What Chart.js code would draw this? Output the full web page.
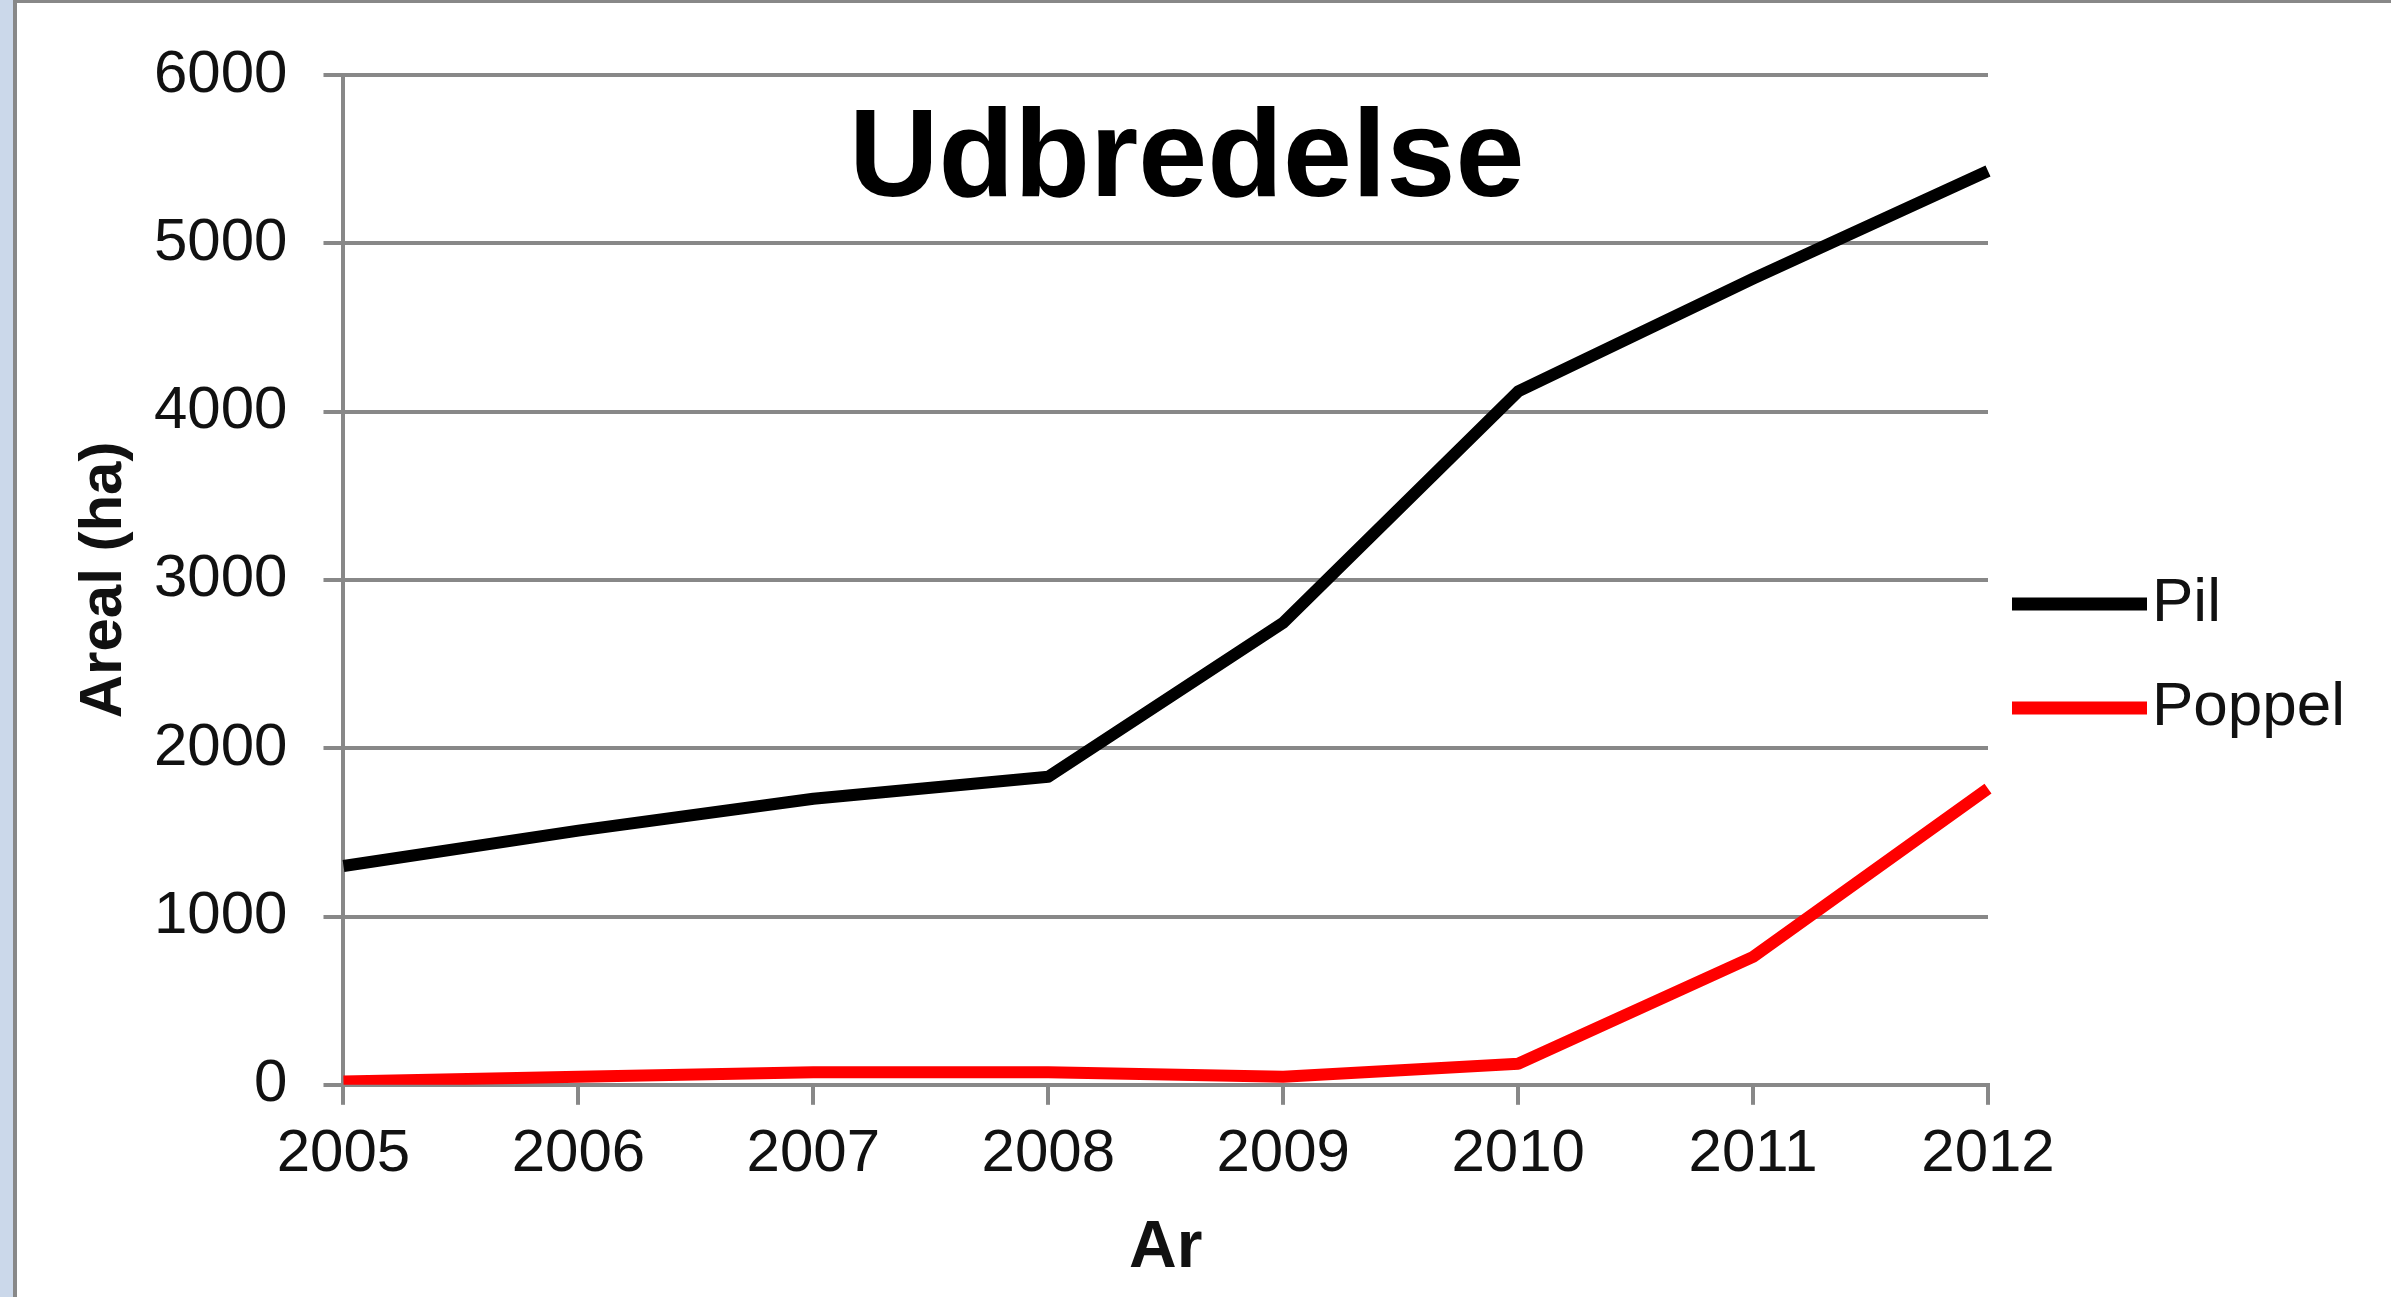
<!DOCTYPE html>
<html>
<head>
<meta charset="utf-8">
<script src="https://cdn.jsdelivr.net/npm/chart.js@4/dist/chart.umd.min.js"></script>
<style>
  html, body { margin: 0; padding: 0; background: #cbd8ea; }
  #ramme {
    position: absolute; left: 13px; top: 0;
    width: 2374px; height: 1294px;
    background: #fff;
    border-left: 4px solid #888;
    border-top: 3px solid #888;
  }
  canvas { display: block; }
</style>
</head>
<body>
<div id="ramme"><canvas id="graf" width="2374" height="1294"></canvas></div>
<script>
// data
const aar = ['2005', '2006', '2007', '2008', '2009', '2010', '2011', '2012'];
const pil = [1300, 1510, 1700, 1830, 2745, 4120, 4790, 5430];
const poppel = [20, 48, 75, 75, 48, 125, 760, 1760];
const yMin = 0;
const yMax = 6000;
const yTrin = 1000;

Chart.defaults.font.family = '"Liberation Sans", Arial, sans-serif';
Chart.defaults.color = '#111';

// titel og forklaring tegnes inde i figuren, som i originalen
const titelOgLegende = {
    id: 'titelOgLegende',
    afterDraw(chart) {
        const { ctx, chartArea } = chart;
        ctx.save();
        ctx.fillStyle = '#000';
        ctx.font = 'bold 124px "Liberation Sans", Arial, sans-serif';
        ctx.textAlign = 'center';
        ctx.textBaseline = 'alphabetic';
        ctx.fillText('Udbredelse', (chartArea.left + chartArea.right) / 2 + 21, chartArea.top + 121);

        chart.data.datasets.forEach((ds, i) => {
            const x = chartArea.right + 24;
            const y = chartArea.top + 529 + i * 104;
            ctx.strokeStyle = ds.borderColor;
            ctx.lineWidth = 13;
            ctx.lineCap = 'butt';
            ctx.beginPath();
            ctx.moveTo(x, y);
            ctx.lineTo(x + 135, y);
            ctx.stroke();
            ctx.fillStyle = '#111';
            ctx.font = '62px "Liberation Sans", Arial, sans-serif';
            ctx.textAlign = 'left';
            ctx.textBaseline = 'middle';
            ctx.fillText(ds.label, x + 140, y);
        });
        ctx.restore();
    }
};

const graf = new Chart(document.getElementById('graf').getContext('2d'), {
    type: 'line',
    data: {
        labels: aar,
        datasets: [
            { label: 'Pil', data: pil, borderColor: '#000000', borderWidth: 12 },
            { label: 'Poppel', data: poppel, borderColor: '#ff0000', borderWidth: 12 }
        ]
    },
    options: {
        responsive: false,
        animation: false,
        devicePixelRatio: 1,
        layout: { padding: { left: 75, right: 403, top: 68, bottom: 9 } },
        elements: {
            point: { radius: 0 },
            line: { tension: 0, borderJoinStyle: 'round', fill: false }
        },
        plugins: {
            legend: { display: false },
            tooltip: { enabled: false }
        },
        scales: {
            x: {
                offset: false,
                grid: { drawOnChartArea: false, color: '#888', lineWidth: 4, tickLength: 20 },
                border: { color: '#888', width: 4 },
                ticks: { font: { size: 60 }, padding: 14, maxRotation: 0 },
                title: {
                    display: true, text: 'Ar',
                    font: { size: 66, weight: 'bold' },
                    padding: { top: 4, bottom: 0 }
                }
            },
            y: {
                min: yMin,
                max: yMax,
                grid: { color: '#888', lineWidth: 4, tickLength: 20 },
                border: { color: '#888', width: 4 },
                ticks: {
                    stepSize: yTrin,
                    font: { size: 60 },
                    padding: 36,
                    callback: v => String(v)
                },
                title: {
                    display: true, text: 'Areal (ha)',
                    font: { size: 60, weight: 'bold', lineHeight: 0.4 },
                    padding: { top: 0, bottom: 2 }
                }
            }
        }
    },
    plugins: [titelOgLegende]
});
</script>
</body>
</html>
